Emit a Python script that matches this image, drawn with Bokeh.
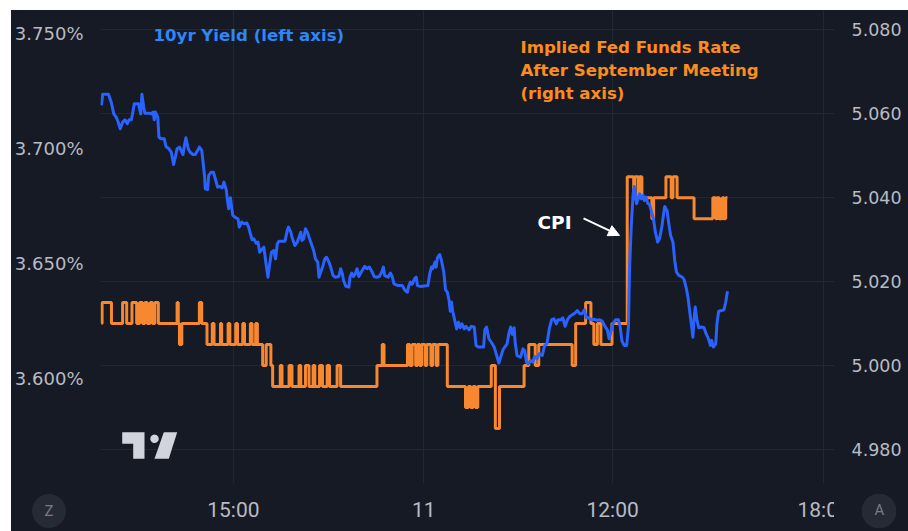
import numpy as np
from bokeh.plotting import figure
from bokeh.models import (Range1d, LinearAxis, FixedTicker, PrintfTickFormatter, Label,
                          Arrow, NormalHead, PolyAnnotation)
from bokeh.embed import file_html
from bokeh.resources import INLINE

# ---------------- data ----------------
# x = 1-minute bar index on TradingView's compressed session axis
time_ticks = [225, 550, 872, 1232]
time_labels = ["15:00", "11", "12:00", "18:00"]
yield_ticks = [3.60, 3.65, 3.70, 3.75]
ffr_ticks = [4.98, 5.00, 5.02, 5.04, 5.06, 5.08]

yield_bar = [0, 2, 12, 17, 21, 25, 28, 32, 36, 40, 44, 47, 51, 54, 56, 63, 65, 67, 69, 72, 74, 81, 85, 88, 90, 92, 96, 98,
             101, 107, 110, 115, 119, 123, 126, 129, 133, 137, 139, 141, 144, 148, 151, 156, 160, 164, 167, 171, 173,
             176, 177, 181, 183, 187, 191, 195, 198, 202, 206, 209, 213, 215, 217, 220, 222, 224, 229, 233, 235, 239,
             243, 248, 251, 254, 257, 260, 264, 267, 270,
             277, 280, 284, 287, 290, 294, 297, 300, 303, 313, 317, 319, 323, 325, 330, 334, 337, 340, 342, 345, 348,
             352, 355, 358, 362, 365, 369, 371, 374, 378, 381, 384, 388, 391, 395, 399, 405, 408, 411, 413, 417, 422,
             424, 427, 430, 433, 436, 439, 444, 449, 453, 457, 462, 465, 469, 474, 478, 481, 483, 489, 493, 496, 499,
             505, 513, 518, 522, 524, 527, 530, 534, 537, 539, 544,
             557, 560, 563, 565, 569, 571, 573, 577, 580, 584, 587, 590, 593, 595, 597, 599, 603, 606, 609, 612, 615,
             619, 622, 627, 631, 636, 639, 643, 652, 654, 657, 661, 665, 670, 675, 678, 681, 685, 688, 692, 695, 698,
             701, 704, 706, 709, 715, 719, 722, 725, 728, 732, 736, 739, 743, 747, 752, 756, 760, 764, 768, 772, 776,
             779, 784, 787, 791, 795, 799, 803, 808, 812, 816,
             820, 824, 827, 831, 836, 841, 845, 850, 854, 859, 863, 866, 869, 872, 877, 882, 885, 888, 892, 896, 899,
             901, 904, 907, 909, 911, 913, 916, 918, 921, 924, 926, 929, 932, 935, 938, 942, 945, 949, 952, 956, 959,
             961, 965, 968, 971, 975, 978, 981, 985, 991, 994, 998, 1001, 1004, 1007, 1009, 1011, 1013, 1016, 1019,
             1024, 1028, 1032, 1035, 1039, 1041, 1044, 1048, 1050, 1053, 1058, 1062, 1065, 1068]
yield_pct = [3.7189, 3.7237, 3.7237, 3.7199, 3.7152, 3.7138, 3.7120, 3.7087, 3.7116, 3.7126, 3.7109, 3.7126, 3.7126,
             3.7167, 3.7196, 3.7196, 3.7174, 3.7152, 3.7237, 3.7181, 3.7155, 3.7155, 3.7152, 3.7160, 3.7126, 3.7160,
             3.7138, 3.7051, 3.7044, 3.7044, 3.7010, 3.7000, 3.6986, 3.6932, 3.6964, 3.7000, 3.7007, 3.6986, 3.6975,
             3.7007, 3.7048, 3.7000, 3.6986, 3.6975, 3.6975, 3.6993, 3.7007, 3.6993, 3.6949, 3.6877, 3.6826, 3.6822,
             3.6884, 3.6898, 3.6898, 3.6862, 3.6833, 3.6836, 3.6830, 3.6855, 3.6819, 3.6775, 3.6739, 3.6787, 3.6746,
             3.6710, 3.6700, 3.6695, 3.6659, 3.6681, 3.6674, 3.6677, 3.6659, 3.6630, 3.6604, 3.6608, 3.6589, 3.6594,
             3.6550,
             3.6572, 3.6514, 3.6441, 3.6499, 3.6550, 3.6557, 3.6521, 3.6587, 3.6598, 3.6598, 3.6645, 3.6659, 3.6637,
             3.6615, 3.6579, 3.6594, 3.6615, 3.6637, 3.6601, 3.6608, 3.6652, 3.6633, 3.6608, 3.6587, 3.6557, 3.6521,
             3.6507, 3.6441, 3.6463, 3.6492, 3.6521, 3.6528, 3.6507, 3.6485, 3.6449, 3.6441, 3.6444, 3.6478, 3.6456,
             3.6427, 3.6401, 3.6398, 3.6441, 3.6459, 3.6444, 3.6456, 3.6478, 3.6444, 3.6467, 3.6488, 3.6478, 3.6485,
             3.6463, 3.6444, 3.6441, 3.6444, 3.6463, 3.6485, 3.6449, 3.6441, 3.6459, 3.6444, 3.6412, 3.6405, 3.6405,
             3.6383, 3.6376, 3.6401, 3.6420, 3.6410, 3.6434, 3.6441, 3.6405, 3.6401,
             3.6405, 3.6456, 3.6485, 3.6478, 3.6507, 3.6485, 3.6525, 3.6540, 3.6514, 3.6463, 3.6386, 3.6376, 3.6340,
             3.6293, 3.6333, 3.6296, 3.6250, 3.6216, 3.6245, 3.6221, 3.6238, 3.6216, 3.6227, 3.6212, 3.6227, 3.6224,
             3.6144, 3.6137, 3.6137, 3.6212, 3.6224, 3.6173, 3.6158, 3.6137, 3.6093, 3.6067, 3.6093, 3.6125, 3.6137,
             3.6151, 3.6195, 3.6224, 3.6192, 3.6221, 3.6151, 3.6100, 3.6093, 3.6129, 3.6122, 3.6071, 3.6064, 3.6078,
             3.6071, 3.6096, 3.6086, 3.6108, 3.6100, 3.6144, 3.6151, 3.6216, 3.6256, 3.6260, 3.6238, 3.6256, 3.6256,
             3.6264, 3.6227, 3.6256, 3.6270, 3.6277, 3.6285, 3.6296, 3.6282,
             3.6282, 3.6299, 3.6264, 3.6264, 3.6256, 3.6258, 3.6253, 3.6256, 3.6250, 3.6227, 3.6212, 3.6173, 3.6202,
             3.6235, 3.6256, 3.6256, 3.6224, 3.6163, 3.6144, 3.6144, 3.6224, 3.6485, 3.6673, 3.6804, 3.6836, 3.6790,
             3.6761, 3.6787, 3.6804, 3.6782, 3.6797, 3.6775, 3.6790, 3.6763, 3.6757, 3.6731, 3.6691, 3.6637, 3.6594,
             3.6608, 3.6659, 3.6717, 3.6749, 3.6729, 3.6673, 3.6623, 3.6594, 3.6514, 3.6463, 3.6449, 3.6441, 3.6430,
             3.6390, 3.6347, 3.6282, 3.6224, 3.6180, 3.6260, 3.6311, 3.6253, 3.6221, 3.6224, 3.6221, 3.6192, 3.6177,
             3.6144, 3.6166, 3.6137, 3.6151, 3.6238, 3.6293, 3.6296, 3.6299, 3.6332, 3.6380]

# implied fed funds rate: (bar where level starts, level)
ffr_bar = [0, 1, 17, 36, 43, 52, 60, 65, 70, 74, 78, 83, 87, 91, 97, 129, 131, 133, 137, 167, 171,
           180, 189, 192, 203, 205, 216, 219, 229, 232, 241, 244, 254, 257, 263, 266, 275, 281, 289, 292,
           305, 308, 320, 325, 337, 340, 348, 354, 361, 364, 372, 377, 385, 389, 402, 408, 470, 479, 482,
           522, 526, 530, 536, 539, 543, 546, 552, 555, 562, 565, 571, 574, 590, 621, 626, 630, 634, 638,
           642, 665, 672, 679, 721, 729, 740, 746, 803, 809, 826, 835, 840, 846, 852, 871, 897, 908, 910,
           916, 918, 922, 939, 942, 963, 972, 975, 982, 1011, 1043, 1048, 1050, 1054, 1059, 1062, 1065, 1068]
ffr_rate = [5.010, 5.015, 5.010, 5.015, 5.010, 5.015, 5.010, 5.015, 5.010, 5.015, 5.010, 5.015, 5.010, 5.015,
            5.010, 5.015, 5.010, 5.005, 5.010, 5.015, 5.010,
            5.005, 5.010, 5.005, 5.010, 5.005, 5.010, 5.005, 5.010, 5.005, 5.010, 5.005, 5.010, 5.005, 5.010,
            5.005, 5.000, 5.005, 5.000, 4.995,
            5.000, 4.995, 5.000, 4.995, 5.000, 4.995, 5.000, 4.995, 5.000, 4.995, 5.000, 4.995, 5.000, 4.995,
            5.000, 4.995, 5.000, 5.005, 5.000,
            5.005, 5.000, 5.005, 5.000, 5.005, 5.000, 5.005, 5.000, 5.005, 5.000, 5.005, 5.000, 5.005, 4.995,
            4.990, 4.995, 4.990, 4.995, 4.990,
            4.995, 5.000, 4.985, 4.995, 5.000, 5.005, 5.000, 5.005, 5.000, 5.010, 5.015, 5.010, 5.005, 5.010,
            5.005, 5.010, 5.045, 5.040, 5.045,
            5.040, 5.045, 5.040, 5.035, 5.040, 5.045, 5.040, 5.045, 5.040, 5.035, 5.040, 5.035, 5.040, 5.035,
            5.040, 5.035, 5.040, 5.040]

# ---------------- style ----------------
BG = "#161a25"
GRID = "#232733"
TICK = "#b8bbc3"
BLUE = "#2962ff"
BLUE_TXT = "#2f86f7"
ORANGE = "#f7882f"
ORANGE_TXT = "#fb8c1e"
AX_FONT = "DejaVu Sans"
TXT_FONT = "DejaVu Sans"

css = """
:host { background-color: %(bg)s; }
:host::before {
  content: "Z"; position: absolute; left: 21px; top: 484px; width: 34px; height: 34px;
  border-radius: 50%%; background: #262a35; color: #787b86; font: 15px Roboto, sans-serif;
  line-height: 34px; text-align: center; z-index: 5;
}
:host::after {
  content: "A"; position: absolute; left: 823px; top: 473px; width: 74px; height: 48px;
  box-sizing: border-box; padding: 7px 0 0 17px;
  background: radial-gradient(circle at 45px 28px, #262a35 0, #262a35 17px, %(bg)s 17.6px);
  color: #787b86; font: 15px Roboto, sans-serif; line-height: 41px; text-align: center; z-index: 5;
}
""" % {"bg": BG}

p = figure(width=897, height=521, x_range=Range1d(-1.7, 1250.6), y_range=Range1d(4.9719, 5.0846),
           y_axis_location="right", output_backend="svg", toolbar_location=None, title=None)
p.margin = (10, 0, 0, 11)
p.stylesheets = [css]
p.background_fill_color = BG
p.border_fill_color = None
p.outline_line_color = None
p.min_border_left = 89
p.min_border_right = 74
p.min_border_top = 0
p.min_border_bottom = 48

right_axis = p.yaxis[0]
x_axis = p.xaxis[0]

ffr_tk = FixedTicker(ticks=ffr_ticks)
right_axis.ticker = ffr_tk
right_axis.formatter = PrintfTickFormatter(format="%.3f")
p.ygrid[0].ticker = ffr_tk

p.extra_y_ranges = {"yld": Range1d(3.5543, 3.7602)}
left_axis = LinearAxis(y_range_name="yld", ticker=FixedTicker(ticks=yield_ticks),
                       formatter=PrintfTickFormatter(format="%.3f%%"))
p.add_layout(left_axis, "left")

t_tk = FixedTicker(ticks=time_ticks)
x_axis.ticker = t_tk
p.xgrid[0].ticker = t_tk
x_axis.major_label_overrides = {t: lab for t, lab in zip(time_ticks, time_labels)}

for ax in [left_axis, right_axis, x_axis]:
    ax.axis_line_color = None
    ax.major_tick_line_color = None
    ax.minor_tick_line_color = None
    ax.major_tick_out = 0
    ax.major_tick_in = 0
    ax.minor_tick_out = 0
    ax.minor_tick_in = 0
    ax.major_label_text_color = TICK
    ax.major_label_text_font = AX_FONT
    ax.major_label_text_font_size = "17.5px"
    ax.major_label_standoff = 17
left_axis.major_label_text_font_size = "18px"
x_axis.major_label_text_font = "Roboto"
x_axis.major_label_text_font_size = "21px"
x_axis.major_label_standoff = 14

p.grid.grid_line_color = GRID
p.grid.grid_line_width = 1

# ---------------- series ----------------
p.step(ffr_bar, ffr_rate, mode="after", line_color=ORANGE, line_width=3)
p.line(yield_bar, yield_pct, y_range_name="yld", line_color=BLUE, line_width=3, line_join="round")

# ---------------- annotations ----------------
p.add_layout(Label(x=88.7, y=5.07869, text="10yr Yield (left axis)", text_color=BLUE_TXT,
                   text_font=TXT_FONT, text_font_style="bold", text_font_size="16.6px", text_baseline="middle"))
for txt, yy in zip(["Implied Fed Funds Rate", "After September Meeting", "(right axis)"],
                   [5.07583, 5.07035, 5.06486]):
    p.add_layout(Label(x=714.9, y=yy, text=txt, text_color=ORANGE_TXT, text_font=TXT_FONT,
                       text_font_style="bold", text_font_size="16.6px", text_baseline="middle"))
p.add_layout(Label(x=743.9, y=5.03411, text="CPI", text_color="white", text_font=TXT_FONT,
                   text_font_style="bold", text_font_size="18.5px", text_baseline="middle"))
p.add_layout(Arrow(x_start=822.4, y_start=5.03507, x_end=883.8, y_end=5.03101, line_color="white",
                   line_width=2, end=NormalHead(size=11, fill_color="white", line_color="white")))

# TradingView logo
LOGO = "#d1d4dc"
p.add_layout(PolyAnnotation(xs=[110.7, 133, 133, 121.7, 121.7, 110.7], ys=[421.7, 421.7, 448.3, 448.3, 433.3, 433.3],
                            xs_units="canvas", ys_units="canvas", fill_color=LOGO, fill_alpha=1, line_color=None))
p.add_layout(PolyAnnotation(xs=[152.3, 165.7, 157.3, 143], ys=[421.7, 421.7, 448.3, 448.3],
                            xs_units="canvas", ys_units="canvas", fill_color=LOGO, fill_alpha=1, line_color=None))
ang = np.linspace(0, 2 * np.pi, 40)
p.add_layout(PolyAnnotation(xs=list(143 + 4.2 * np.cos(ang)), ys=list(428.3 + 4.2 * np.sin(ang)),
                            xs_units="canvas", ys_units="canvas", fill_color=LOGO, fill_alpha=1, line_color=None))

open("out.html", "w").write(file_html(p, INLINE))
